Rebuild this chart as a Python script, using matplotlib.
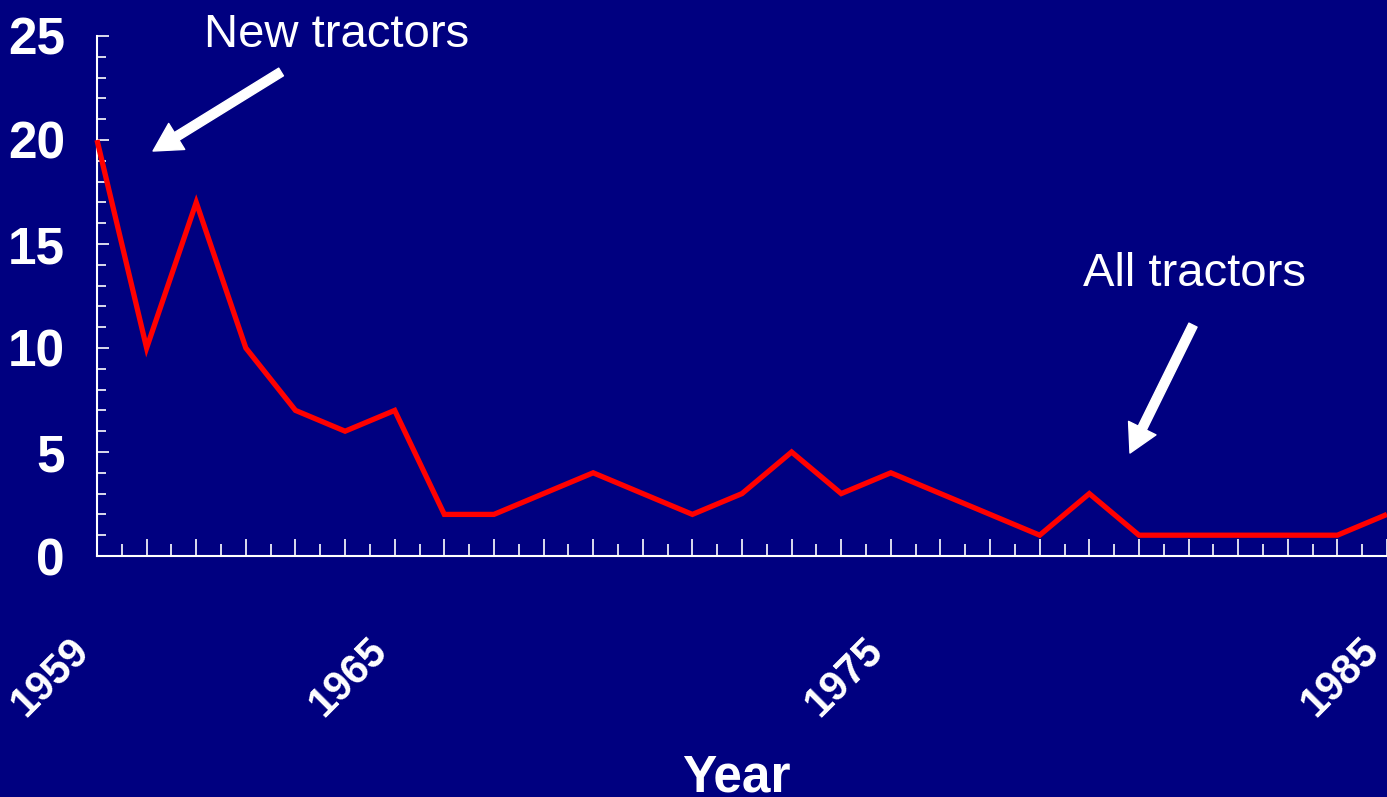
import numpy as np
import matplotlib
matplotlib.use('Agg')
import matplotlib.pyplot as plt
from matplotlib.ticker import MultipleLocator, FuncFormatter

# data
years = [1959, 1960, 1961, 1962, 1963, 1964, 1965, 1966, 1967, 1968, 1969,
         1970, 1971, 1972, 1973, 1974, 1975, 1976, 1977, 1978, 1979, 1980,
         1981, 1982, 1983, 1984, 1985]
values = [20, 10, 17, 10, 7, 6, 7, 2, 2, 3, 4,
          3, 2, 3, 5, 3, 4, 3, 2, 1, 3, 1,
          1, 1, 1, 1, 2]
label_years = [1959, 1965, 1975, 1985]

bg = '#000080'
fg = 'white'

fig = plt.figure(figsize=(13.87, 7.97), dpi=100, facecolor=bg)
ax = fig.add_axes([97/1387, (797-556)/797, 1290/1387, 520/797], facecolor=bg)

ax.plot(years, values, color='#ff0000', lw=3.8, clip_on=False, zorder=5,
        solid_joinstyle='miter', solid_capstyle='butt')

ax.set_xlim(1959, 1985)
ax.set_ylim(0, 25)

for s in ['top', 'right']:
    ax.spines[s].set_visible(False)
for s in ['left', 'bottom']:
    ax.spines[s].set_color(fg)
    ax.spines[s].set_linewidth(1.5)

# ticks
ax.xaxis.set_major_locator(MultipleLocator(1))
ax.xaxis.set_minor_locator(MultipleLocator(0.5))
ax.yaxis.set_major_locator(MultipleLocator(5))
ax.yaxis.set_minor_locator(MultipleLocator(1))
ax.xaxis.set_major_formatter(FuncFormatter(
    lambda v, p: str(int(round(v))) if int(round(v)) in label_years else ''))

ax.tick_params(axis='x', which='major', direction='in', length=12, width=1.2,
               color=fg, pad=54)
ax.tick_params(axis='x', which='minor', direction='in', length=9, width=1.2,
               color=fg)
ax.tick_params(axis='y', which='major', direction='in', length=8.5, width=1.2,
               color=fg, pad=23)
ax.tick_params(axis='y', which='minor', direction='in', length=6.5, width=1.2,
               color=fg)

for lab in ax.get_xticklabels():
    lab.set_rotation(45)
    lab.set_ha('right')
    lab.set_va('top')
    lab.set_fontsize(30)
    lab.set_fontweight('bold')
    lab.set_color(fg)
    lab.set_family(['Liberation Sans', 'DejaVu Sans'])
for lab in ax.get_yticklabels():
    lab.set_fontsize(37)
    lab.set_fontweight('bold')
    lab.set_color(fg)
    lab.set_family(['Liberation Sans Narrow', 'Liberation Sans', 'DejaVu Sans'])

ax.set_xlabel('Year', fontsize=37, fontweight='bold', color=fg,
              family=['Liberation Sans', 'DejaVu Sans'], va='baseline')
ax.xaxis.set_label_coords(0.496, -(791-556)/520)

# annotations
arrow = dict(facecolor=fg, edgecolor=fg, width=6.5, headwidth=22, headlength=20,
             shrink=0)
ax.annotate('', xy=(1960.13, 19.47), xytext=(1962.71, 23.27),
            arrowprops=arrow, annotation_clip=False)
ax.text(1963.82, 24.47, 'New tractors', fontsize=34, color=fg, ha='center',
        va='baseline', family=['Liberation Sans', 'DejaVu Sans'], clip_on=False)
ax.annotate('', xy=(1979.82, 4.95), xytext=(1981.09, 11.1),
            arrowprops=arrow, annotation_clip=False)
ax.text(1981.13, 12.98, 'All tractors', fontsize=34, color=fg, ha='center',
        va='baseline', family=['Liberation Sans', 'DejaVu Sans'], clip_on=False)

fig.savefig('out.png', dpi=100, facecolor=bg)
